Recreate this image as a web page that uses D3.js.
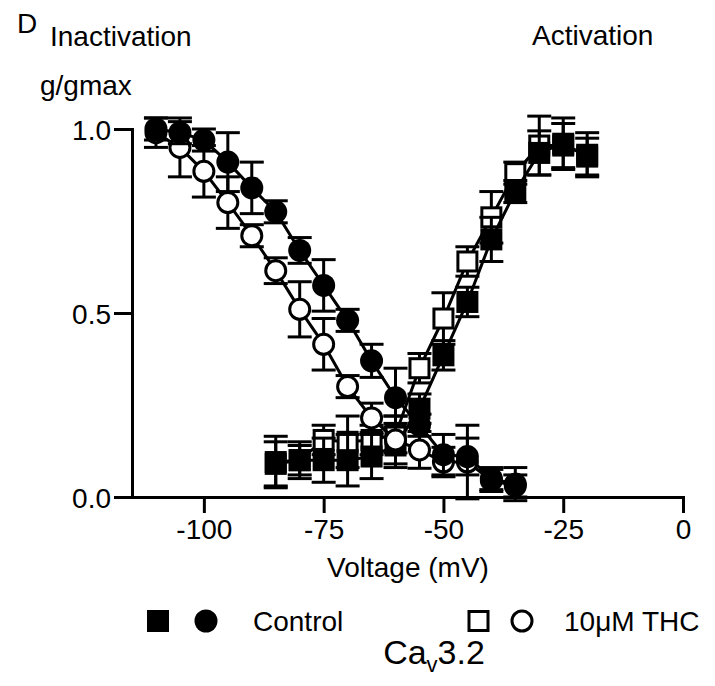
<!DOCTYPE html>
<html>
<head>
<meta charset="utf-8">
<script src="https://d3js.org/d3.v7.min.js"></script>
<style>
  body { margin: 0; background: white; }
  text { font-family: "Liberation Sans", Arial, sans-serif; fill: black; }
</style>
</head>
<body>
<div id="my_chart"></div>
<script>
// voltages (mV)
var voltsInact = [-110, -105, -100, -95, -90, -85, -80, -75, -70, -65, -60, -55, -50, -45, -40, -35];
var voltsAct = [-85, -80, -75, -70, -65, -60, -55, -50, -45, -40, -35, -30, -25, -20];

// inactivation, g/gmax (mean and error)
var inactControl    = [1.00, 0.99, 0.97, 0.91, 0.84, 0.775, 0.67, 0.575, 0.48, 0.37, 0.27, 0.195, 0.115, 0.11, 0.05, 0.035];
var inactControlErr = [0.03, 0.03, 0.03, 0.08, 0.07, 0.03, 0.035, 0.07, 0.03, 0.045, 0.08, 0.03, 0.055, 0.05, 0.03, 0.045];
var inactTHC        = [0.99, 0.95, 0.885, 0.80, 0.71, 0.615, 0.51, 0.415, 0.30, 0.215, 0.155, 0.128, 0.095, 0.095, 0.045, 0.03];
var inactTHCErr     = [0.04, 0.08, 0.07, 0.07, 0.03, 0.035, 0.075, 0.07, 0.03, 0.04, 0.065, 0.05, 0.04, 0.1, 0.03, 0.03];

// activation, g/gmax (mean and error)
var actControl    = [0.09, 0.10, 0.10, 0.10, 0.11, 0.14, 0.24, 0.385, 0.53, 0.70, 0.83, 0.935, 0.96, 0.925];
var actControlErr = [0.06, 0.05, 0.06, 0.07, 0.06, 0.06, 0.04, 0.04, 0.04, 0.06, 0.03, 0.06, 0.07, 0.05];
var actTHC        = [0.095, 0.10, 0.155, 0.15, 0.155, 0.17, 0.35, 0.485, 0.64, 0.76, 0.88, 0.955, 0.955, 0.93];
var actTHCErr     = [0.07, 0.04, 0.04, 0.07, 0.04, 0.05, 0.04, 0.07, 0.04, 0.07, 0.03, 0.08, 0.06, 0.06];

var xTicks = [-100, -75, -50, -25, 0];
var yTicks = [0, 0.5, 1.0];

// set the dimensions and margins of the graph
var margin = {top: 129, right: 32, bottom: 189, left: 132},
    width = 715 - margin.left - margin.right,
    height = 686 - margin.top - margin.bottom;

var root = d3.select("#my_chart")
  .append("svg")
    .attr("width", 715)
    .attr("height", 686);

var svg = root.append("g")
    .attr("transform", "translate(" + margin.left + "," + margin.top + ")");

var x = d3.scaleLinear()
  .domain([-115, 0])
  .range([0, width]);

var y = d3.scaleLinear()
  .domain([0, 1])
  .range([height, 0]);

// X axis
var xAxis = svg.append("g")
  .attr("transform", "translate(0," + height + ")")
  .call(d3.axisBottom(x).tickValues(xTicks).tickSize(16).tickSizeOuter(0).tickPadding(6)
    .tickFormat(function(d) { return String(d); }));

// Y axis
var yAxis = svg.append("g")
  .call(d3.axisLeft(y).tickValues(yTicks).tickSize(18).tickSizeOuter(0).tickPadding(3)
    .tickFormat(d3.format(".1f")));

[xAxis, yAxis].forEach(function(a) {
  a.select(".domain").attr("stroke-width", 3).attr("stroke-linecap", "square");
  a.selectAll(".tick line").attr("stroke-width", 3);
  a.selectAll(".tick text").style("font-size", "28px").attr("fill", "black");
});
yAxis.selectAll(".tick text").attr("dy", "0.36em");

function zip(volts, vals, errs) {
  return volts.map(function(v, i) { return {v: v, g: vals[i], e: errs[i]}; });
}

var series = [
  {data: zip(voltsAct, actTHC, actTHCErr), shape: "square", filled: false},
  {data: zip(voltsAct, actControl, actControlErr), shape: "square", filled: true},
  {data: zip(voltsInact, inactTHC, inactTHCErr), shape: "circle", filled: false},
  {data: zip(voltsInact, inactControl, inactControlErr), shape: "circle", filled: true}
];

var capW = 12;

series.forEach(function(s) {
  var g = svg.append("g");

  // error bars
  var eb = g.selectAll(".eb").data(s.data).enter().append("g")
    .attr("stroke", "black").attr("stroke-width", 3);
  eb.append("line")
    .attr("x1", function(d) { return x(d.v); }).attr("x2", function(d) { return x(d.v); })
    .attr("y1", function(d) { return y(d.g + d.e); }).attr("y2", function(d) { return y(d.g - d.e); });
  eb.append("line")
    .attr("x1", function(d) { return x(d.v) - capW; }).attr("x2", function(d) { return x(d.v) + capW; })
    .attr("y1", function(d) { return y(d.g + d.e); }).attr("y2", function(d) { return y(d.g + d.e); });
  eb.append("line")
    .attr("x1", function(d) { return x(d.v) - capW; }).attr("x2", function(d) { return x(d.v) + capW; })
    .attr("y1", function(d) { return y(d.g - d.e); }).attr("y2", function(d) { return y(d.g - d.e); });

  // connecting line
  g.append("path")
    .datum(s.data)
    .attr("fill", "none")
    .attr("stroke", "black")
    .attr("stroke-width", 3)
    .attr("d", d3.line()
      .x(function(d) { return x(d.v); })
      .y(function(d) { return y(d.g); }));

  // markers
  if (s.shape === "circle") {
    g.selectAll(".pt").data(s.data).enter().append("circle")
      .attr("cx", function(d) { return x(d.v); })
      .attr("cy", function(d) { return y(d.g); })
      .attr("r", s.filled ? 11.5 : 10)
      .attr("fill", s.filled ? "black" : "white")
      .attr("stroke", "black")
      .attr("stroke-width", s.filled ? 0 : 3);
  } else {
    var side = s.filled ? 22 : 19;
    g.selectAll(".pt").data(s.data).enter().append("rect")
      .attr("x", function(d) { return x(d.v) - side / 2; })
      .attr("y", function(d) { return y(d.g) - side / 2; })
      .attr("width", side)
      .attr("height", side)
      .attr("fill", s.filled ? "black" : "white")
      .attr("stroke", "black")
      .attr("stroke-width", s.filled ? 0 : 3);
  }
});

// titles and labels
root.append("text").attr("x", 17).attr("y", 33).style("font-size", "28px").text("D");
root.append("text").attr("x", 50).attr("y", 46).style("font-size", "28px").text("Inactivation");
root.append("text").attr("x", 532).attr("y", 45).style("font-size", "28px").text("Activation");
root.append("text").attr("x", 40).attr("y", 95).style("font-size", "28px").text("g/gmax");
root.append("text").attr("x", 408).attr("y", 577).attr("text-anchor", "middle")
  .style("font-size", "28px").text("Voltage (mV)");

// legend
var legY = 621;
root.append("rect").attr("x", 147).attr("y", legY - 11).attr("width", 22).attr("height", 22).attr("fill", "black");
root.append("circle").attr("cx", 206).attr("cy", legY).attr("r", 11.5).attr("fill", "black");
root.append("text").attr("x", 253).attr("y", legY + 10).style("font-size", "28px").text("Control");
root.append("rect").attr("x", 469).attr("y", legY - 9.5).attr("width", 19).attr("height", 19)
  .attr("fill", "white").attr("stroke", "black").attr("stroke-width", 3);
root.append("circle").attr("cx", 522).attr("cy", legY).attr("r", 10)
  .attr("fill", "white").attr("stroke", "black").attr("stroke-width", 3);
root.append("text").attr("x", 564).attr("y", legY + 10).style("font-size", "28px").text("10\u03bcM THC");

var cav = root.append("text").attr("x", 434).attr("y", 664).attr("text-anchor", "middle")
  .style("font-size", "34px");
cav.append("tspan").text("Ca");
cav.append("tspan").attr("dy", 8).style("font-size", "22px").text("v");
cav.append("tspan").attr("dy", -8).text("3.2");
</script>
</body>
</html>
